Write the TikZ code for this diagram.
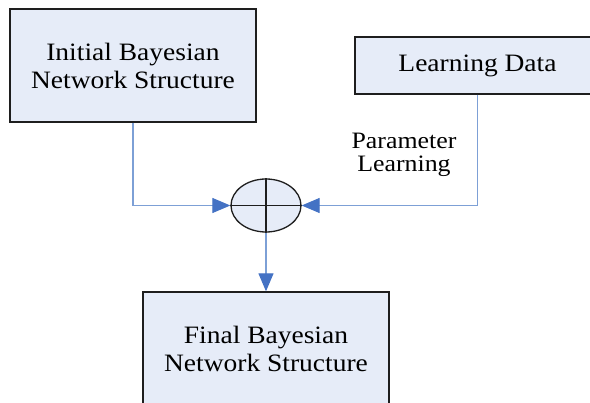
\documentclass[tikz,border=0pt]{standalone}
\usepackage{fontspec}
\setmainfont{Liberation Serif}[FakeStretch=1.1]
\usetikzlibrary{shapes.geometric,arrows.meta}
\definecolor{boxfill}{RGB}{230,236,248}
\definecolor{linecol}{RGB}{125,160,214}
\definecolor{tipcol}{RGB}{68,114,196}
\definecolor{bordercol}{RGB}{30,30,30}
\tikzset{
  block/.style={draw=bordercol, line width=1.3pt, fill=boxfill, align=center, inner sep=0pt,
    font=\fontsize{25}{28}\selectfont},
  conn/.style={draw=linecol, line width=1.1pt,
    -{Triangle[length=18pt,width=15pt,fill=tipcol,color=tipcol]}},
  lbl/.style={align=center, font=\fontsize{23.5}{22.5}\selectfont}
}
\begin{document}
\begin{tikzpicture}[x=1pt,y=-1pt]
\useasboundingbox (0,0) rectangle (590,403);
\clip (0,0) rectangle (590,403);
\fill[white] (0,0) rectangle (590,403);
\node[block, minimum width=246pt, minimum height=113pt] (init) at (133,65.5) {Initial Bayesian\\Network Structure};
\node[block, minimum width=245pt, minimum height=57pt] (data) at (477.5,65.5) {Learning Data};
\node[block, minimum width=246pt, minimum height=113pt] (final) at (266,348.5) {Final Bayesian\\Network Structure};
\node[draw=bordercol, line width=1.3pt, fill=boxfill, ellipse, minimum width=70pt, minimum height=53pt, inner sep=0pt] (sum) at (266,205.5) {};
\draw[bordercol, line width=1.3pt] (sum.north) -- (sum.south) (sum.west) -- (sum.east);
\draw[conn] (init.south) |- (sum.west);
\draw[conn] (data.south) |- (sum.east);
\draw[conn] (sum.south) -- (final.north);
\node[lbl] (plabel) at (404,155) {Parameter\\Learning};
\end{tikzpicture}
\end{document}
